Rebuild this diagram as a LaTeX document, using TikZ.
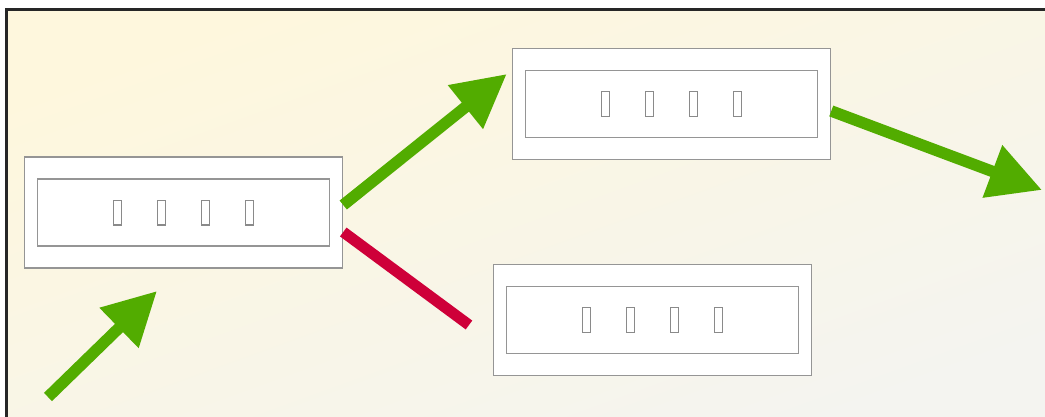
\documentclass[tikz,border=0pt]{standalone}
\usetikzlibrary{arrows.meta,calc}
\definecolor{framegray}{HTML}{959595}
\definecolor{tofugray}{HTML}{8A8A8A}
\definecolor{leafgreen}{HTML}{52AC00}
\definecolor{crimson}{HTML}{CE0039}
\definecolor{bgtop}{HTML}{FEF7DD}
\definecolor{bgbottom}{HTML}{F4F4F0}
\definecolor{edgedark}{HTML}{262626}
% an empty glyph box, as the labels are printed
\newcommand\tofu{{\color{tofugray}\setlength\fboxrule{1.4pt}\setlength\fboxsep{0pt}\fbox{\rule{0pt}{23.2pt}\hspace{6.2pt}}}}
\newcommand\tofurow{\tofu\hspace{35pt}\tofu\hspace{35pt}\tofu\hspace{35pt}\tofu}
\begin{document}
\begin{tikzpicture}[x=1pt,y=-1pt,
  outerbox/.style={draw=framegray,line width=1.5pt,fill=white,rectangle,
    minimum width=318pt,minimum height=111pt,inner sep=0pt},
  innerbox/.style={draw=framegray,line width=1.5pt,rectangle,
    minimum width=292pt,minimum height=67pt,inner sep=0pt},
  bigarrow/.style={draw=leafgreen,line width=11.5pt,
    -{Triangle[length=53pt 0 0,width=53pt 0 0]}},
  redbar/.style={draw=crimson,line width=11pt}]
\useasboundingbox (0,0) rectangle (1045,416);
\clip (0,0) rectangle (1045,416);
% backdrop and its frame
\shade[shading=axis,top color=bgtop,bottom color=bgbottom,shading angle=20]
  (7,10) rectangle (1060,430);
\draw[edgedark,line width=3pt] (6.5,9.5) rectangle (1070,440);
% boxes
\node[outerbox] (b1) at (183.5,212.5) {};
\node[innerbox] (i1) at (b1.center) {\tofurow};
\node[outerbox] (b2) at (671.5,104) {};
\node[innerbox] (i2) at (b2.center) {\tofurow};
\node[outerbox] (b3) at (652.5,320) {};
\node[innerbox] (i3) at (b3.center) {\tofurow};
% free ends
\coordinate (in0) at (48,397);
\coordinate (in1) at (157,291);
\coordinate (out1) at (1042,190);
\coordinate (redend) at (469,325);
% connectors
\draw[bigarrow] (in0) -- (in1);
\draw[bigarrow] ($(b1.east)+(0,-7.5)$) -- ($(b2.west)+(-5,-30)$);
\draw[bigarrow] ($(b2.east)+(0,7)$) -- (out1);
\draw[redbar] ($(b1.east)+(0,19.5)$) -- (redend);
\end{tikzpicture}
\end{document}
